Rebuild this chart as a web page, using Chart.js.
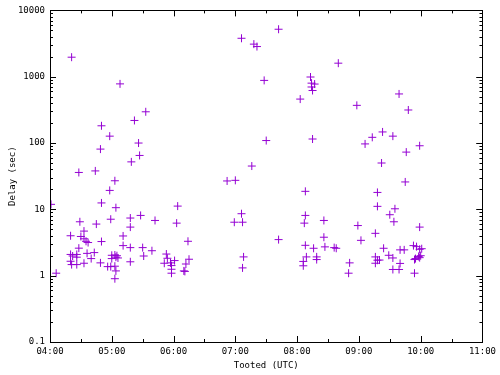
<!DOCTYPE html>
<html>
<head>
<meta charset="utf-8">
<script src="https://cdn.jsdelivr.net/npm/chart.js@4/dist/chart.umd.min.js"></script>
<style>
  body { margin: 0; background: #fff; }
</style>
</head>
<body>
<canvas id="myChart" width="500" height="375"></canvas>
<script>
// hora de publicacion (UTC)
const tooted = [
  "04:21","05:08","05:33","05:22","04:50","04:58","05:26","04:49","05:27","05:19","04:28","04:44",
  "07:06","07:18","07:21","07:42","08:40","07:28","08:13","08:14","08:17","08:14","08:15","08:03","08:58",
  "09:39","09:48","07:30","08:15","09:06","09:13","09:23","09:33","09:59","09:46","07:16","09:22",
  "04:01","04:06","05:03","04:58","04:50","05:04","04:59","05:18","05:28","05:42","04:29","04:45",
  "06:04","06:03","05:18","04:20","04:33","04:30","04:33","04:35","04:37","04:50","05:11","06:14",
  "04:28","04:43","04:36","04:40","05:11","05:18","05:30","05:39","05:31","05:53","05:54","04:20",
  "04:22","04:26","04:26","04:20","04:21","04:26","04:33","04:49","04:56","05:00","05:00","04:59",
  "05:03","05:05","05:06","05:04","05:03","05:04","05:03","05:18","05:51","05:57","06:01","05:58",
  "05:58","05:58","06:10","06:11","06:12","06:15","06:52","07:00","07:06","06:59","07:07","07:08","07:07",
  "07:42","08:08","08:08","08:07","08:08","08:06","08:06","08:09","08:16","08:19","08:19","08:26",
  "08:26","08:27","08:36","08:38","08:51","08:50","08:59","09:02","09:18","09:18","09:16","09:24",
  "09:16","09:16","09:18","09:20","09:29","09:33","09:33","09:30","09:35","09:34","09:40","09:44",
  "09:40","09:39","09:45","09:53","09:56","09:59","09:59","10:01","09:54","09:55","09:58","09:59","10:00","09:54"
];

// retraso en segundos
const delays = [
  1970,780,296,219,182,127,100,81,65,52,36,38,
  3800,3100,2850,5200,1600,880,990,800,775,700,620,460,370,
  550,315,109,115,97,122,147,127,91,73,45,50,
  11.9,1.09,27,19.3,12.5,10.6,7.1,7.4,8.1,6.8,6.5,6.0,
  11.2,6.2,5.4,4.0,4.7,3.9,3.6,3.3,3.16,3.27,3.97,3.3,
  2.6,2.23,2.17,1.81,2.84,2.65,2.65,2.38,1.98,2.12,1.83,2.09,
  1.98,2.09,1.9,1.65,1.47,1.47,1.54,1.56,1.37,2.03,1.81,1.37,
  2.05,2.0,1.85,1.9,1.39,1.18,0.90,1.62,1.54,1.56,1.69,1.42,
  1.25,1.09,1.18,1.16,1.50,1.77,26.8,27.4,8.6,6.4,6.4,1.92,1.31,
  3.5,18.7,8.1,6.2,2.87,1.64,1.41,1.92,2.59,1.92,1.75,6.8,
  3.8,2.72,2.65,2.59,1.56,1.09,5.7,3.41,18,11.1,4.35,2.59,
  1.92,1.54,1.71,1.72,2.03,1.85,1.24,8.3,10.2,6.5,2.45,2.45,
  1.53,1.24,25.9,2.84,2.74,5.4,2.5,2.55,1.75,1.81,1.95,1.87,2.0,1.09
];

const ticksY = [0.1, 1, 10, 100, 1000, 10000];
const ticksX = [4, 5, 6, 7, 8, 9, 10, 11];

const fuente = { family: "'DejaVu Sans Mono', monospace", size: 9 };

const aHoras = (t) => {
  const [h, m] = t.split(':').map(Number);
  return h + m / 60;
};

const puntos = tooted.map((t, i) => ({ x: aHoras(t), y: delays[i] }));

// marco y marcas hacia dentro, al estilo gnuplot
const marco = {
  id: 'marco',
  afterDatasetsDraw(chart) {
    const { ctx, chartArea: a, scales } = chart;
    ctx.save();
    ctx.strokeStyle = '#000';
    ctx.lineWidth = 1;
    ctx.beginPath();
    const linea = (x1, y1, x2, y2) => { ctx.moveTo(x1, y1); ctx.lineTo(x2, y2); };

    // eje x: horas y medias horas
    for (let h = 4; h <= 11; h += 0.5) {
      const x = Math.round(scales.x.getPixelForValue(h)) + 0.5;
      const largo = Number.isInteger(h) ? 6 : 3;
      linea(x, a.bottom, x, a.bottom - largo);
      linea(x, a.top, x, a.top + largo);
    }
    // eje y logaritmico
    for (let d = 0.1; d < 10000; d *= 10) {
      for (let k = 1; k <= 10; k++) {
        const v = d * k;
        const y = Math.round(scales.y.getPixelForValue(v)) + 0.5;
        const largo = (k === 1 || k === 10) ? 6 : 3;
        linea(a.left, y, a.left + largo, y);
        linea(a.right, y, a.right - largo, y);
      }
    }
    ctx.stroke();
    ctx.strokeRect(Math.round(a.left) + 0.5, Math.round(a.top) + 0.5,
                   Math.round(a.width), Math.round(a.height));
    ctx.restore();
  }
};

const data = {
  datasets: [{
    label: 'Delay',
    data: puntos,
    pointStyle: 'cross',
    pointRadius: 4,
    pointBorderWidth: 1,
    borderColor: '#9400d3',
    backgroundColor: '#9400d3',
    showLine: false
  }]
};

const config = {
  type: 'scatter',
  data: data,
  plugins: [marco],
  options: {
    responsive: false,
    animation: false,
    devicePixelRatio: 1,
    layout: { padding: { top: 10, right: 15, left: 0, bottom: 0 } },
    plugins: { legend: { display: false }, tooltip: { enabled: false } },
    scales: {
      x: {
        type: 'linear',
        min: 4,
        max: 11,
        grid: { display: false, drawTicks: false },
        border: { display: false },
        afterFit: (s) => { s.height = 33; },
        afterBuildTicks: (s) => { s.ticks = ticksX.map(v => ({ value: v })); },
        ticks: {
          color: '#000',
          font: fuente,
          padding: 4,
          maxRotation: 0,
          callback: (v) => String(v).padStart(2, '0') + ':00'
        },
        title: {
          display: true,
          text: 'Tooted (UTC)',
          color: '#000',
          font: fuente,
          padding: { top: 0, bottom: 4 }
        }
      },
      y: {
        type: 'logarithmic',
        min: 0.1,
        max: 10000,
        grid: { display: false, drawTicks: false },
        border: { display: false },
        afterFit: (s) => { s.width = 50; },
        afterBuildTicks: (s) => { s.ticks = ticksY.map(v => ({ value: v })); },
        ticks: {
          color: '#000',
          font: fuente,
          padding: 5,
          callback: (v) => String(v)
        },
        title: {
          display: true,
          text: 'Delay (sec)',
          color: '#000',
          font: fuente,
          padding: { top: 7, bottom: 0 }
        }
      }
    }
  }
};

const myChart = new Chart(document.getElementById('myChart'), config);
</script>
</body>
</html>
